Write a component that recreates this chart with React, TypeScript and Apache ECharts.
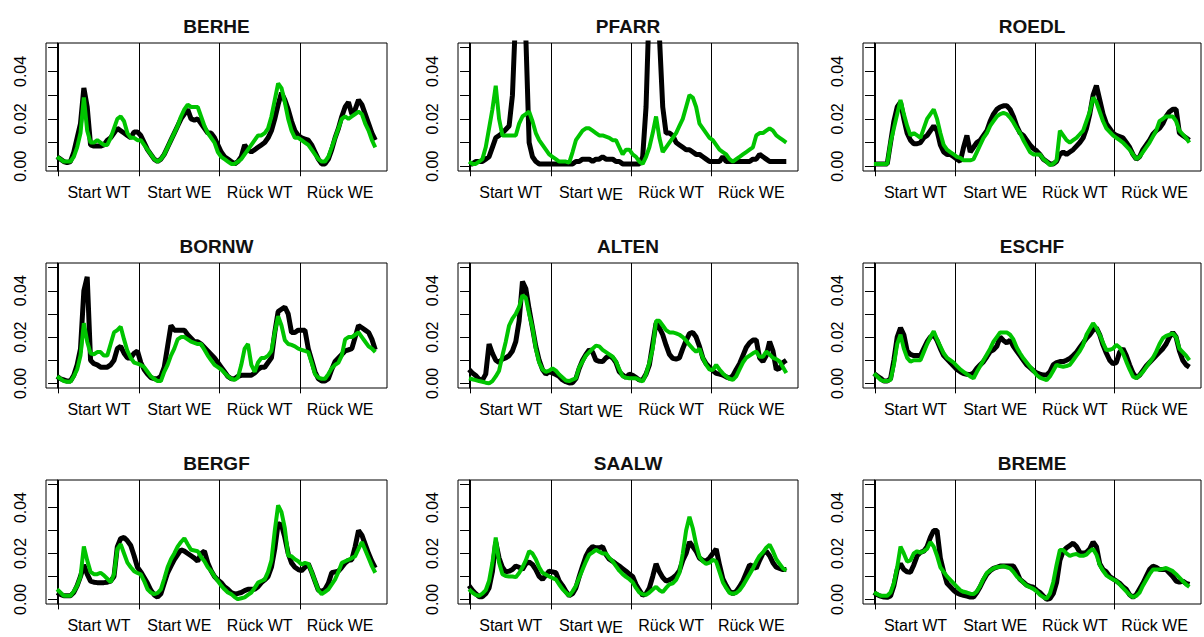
import { useEffect, useRef } from "react";
import * as echarts from "echarts";

// ---------- data (values in thousandths, i.e. 4 = 0.004) ----------
const stations = ["BERHE", "PFARR", "ROEDL", "BORNW", "ALTEN", "ESCHF", "BERGF", "SAALW", "BREME"];
const sectionLabels = ["Start WT", "Start WE", "Rück WT", "Rück WE"];
const sectionBreaks = [0.5, 24.5, 48.5, 72.5];
const sectionCenters = [12.5, 36.5, 60.5, 84.5];
const yTickValues = [0, 0.01, 0.02, 0.03, 0.04, 0.05];
const yLabelValues = [0, 0.02, 0.04];

const berheBlack = [4,3,2,1.5,2,6,12,18,33,25, 9,8.5,8.5,8.5,9,11,12,14,16,15, 14,13,12,14.5,14.5,13,10,7,5,3, 2,3,5,8,11,14,17,20,22,24, 20,19.5,20,18,16,14,14,12,9,6, 4,3,2,1,2,4,9,7,6,7, 8,9,10,12,15,20,26,31,28,24, 19,15,13,12,11.5,11,9,6,3,1, 1,3,7,12,16,21,25,27,22,24, 28,26,22,18,14,11];
const berheGreen = [4,3,2,2,2,4,8,14,29,15, 10,10,11,10,9,9,12,16,20,21, 19,14,12,12,11,11,9,7,5,3, 2,3,5,8,11,14,17,21,24,26, 25,25,25,21,17,14,12,10,6,4, 3,2,1,1,2,3,5,7,9,11, 13,13,14,16,21,28,35,33,27,20, 15,12,12,11,10,9,7,5,3,2, 2,4,8,12,16,20,21,20,21,22, 23,22,18,15,11,8];

const pfarrBlack = [1,1,2,2,2,3,4,8,12,13, 14,15.5,17,30,65,80,80,55,10,4, 2,1,1,1,1,1,1,1,1,1, 1,1,2,2,3,3,3,2,3,3, 4,3,3,3,2,2,1,1,1,1, 1,1,4,25,70,80,80,55,25,14, 14,13,10,9,8,7,7,6,5,5, 4,3,2,2,2,2,4,2,2,2, 2,2,2,2,2,3,3,5,4,3, 2,2,2,2,2,2];
const pfarrGreen = [2,1,1,2,3,8,16,24,34,20, 13,13,13,13,13,18,21,22,23,19, 14,11,9,7,5,4,3,2,2,2, 1.5,6,11,13,15,16,16,15,14,13, 13,12.5,12,11,11,8,5,7,7,5, 4,2,1,4,8,14,21,12,6,8, 10,12,14,17,20,25,30,29,25,18, 16,14,12,11,9,7,6,5,3,2, 3,4,5,6,7,8,13,14,14,15, 16,15,13,12,11,10];

const roedlBlack = [1,1,1,1,1,10,19,25,27,20, 14,11,9.5,9.5,10,12,13,15,17,15, 9,6,5,5,4,3,2,8,13,6, 8,10,11,13,15,19,22,24,25,25.5, 25.5,24,21,17,14,13,11,9,7.5,6.5, 5,3,2,1,1,2,5,6,5,6, 7,8.5,10,12,16,22,30,34,28,22, 18,16,14,13,12.5,12,10,8,5,3, 4,7,9,11,13.5,15,16,18,21,23, 24,24,14,13,12,11];
const roedlGreen = [1,1,1,1,1,10,16,22,28,22, 17,13,14,13,12,16,20,22,24,20, 14,9,7,6,5,4,3.5,2.5,2.5,2.5, 3,6,9,12,14,17,19,21,22,22.5, 22,20.5,18.5,16,14,11,8.5,6,5,5, 5,3,2,0.5,1,2.5,15,13,11,10, 11,12,13.5,15,19,23,29,27,23,19, 16,14.5,13,12,11,10,8.5,7,5,3, 4,6,8,10,12.5,15,19,20,21,21, 21,19,15,13.5,12,10];

const bornwBlack = [3,2,1.5,1,1,3.5,8,15,40,46, 10,8.5,8,7,7,7,8,10,15,16, 13,11,11,13,14,9,6,4,2.5,2, 2,3,7,16,25,23,23,23,23,21, 19.5,18,18,17,15.5,14,12.5,11,9,7, 5,3,2,2,3,3.5,3.5,3.5,3.5,4.5, 6,7,7,9,11,22,31,32,33,30, 22,22,23,23,23,15,10,5,2,1, 1,2,6,9.5,11,12.5,14,14.5,15,20, 25,24,23,22,19,14.5];
const bornwGreen = [3,2,1,0.7,0.7,3,6,12,26,18, 13,12.5,13.5,13.5,12,12,17,22,23,24.5, 19,14,11,9,8.5,8,7,5,3,2, 1,1,5,8,12,15,19,20,20,19, 18,17.5,17,17,14.5,12,10,8,7,6, 4.5,3,2,1.5,2.5,8,15,17,8,5, 9,11,11,12,14,22,29,25,18.7,17, 16.6,16,15,14.5,14,13.5,9,4,2.5,2, 2,4,6.5,8,9,12,19,20,20,21, 22,20,18,16,15,13.5];

const altenBlack = [6,4.5,3.4,1.8,1.4,4,17,13,10,9, 10.5,11,12,14,18,27,44,41,32,24, 16,10,6,4,5,4.5,3.8,3,1.5,0.7, 0.2,0.3,2,6.5,10,12.5,14.5,13.5,10,9.5, 9.4,11,12,11,9,5,3.6,2.5,4,3.5, 2.5,1.4,1.6,4,8,17,26,24,21,16.5, 12.5,10.8,10.5,11,15,18.5,21.5,22,20,16, 11,8.5,7,5.5,4.3,4,3.6,2.8,2.2,3.3, 6,8.5,12,15.5,17.5,18.7,18.7,11,9.4,12, 18,14,6,6.5,9,10];
const altenGreen = [2.2,1.8,1.4,1,0.7,0.3,0,1,3,5.5, 12,18,25,28,30,33,38,37,30,24, 15,9,6,5,5.5,6.5,5.5,3.8,2.5,1.2, 1,1.6,2.2,7,9.5,12,13.5,15,16.3,16, 14.5,13.5,12.5,11.5,9.5,6,3,2.5,2.2,2.2, 2.2,1.5,0.8,4,9,15,27,27,25,23, 22,22,21.6,21,20,18.5,16.6,15,13.7,15, 11,8,6,5.8,8,6,4.3,3,2,1.5, 3,6,9,11,12,13,13.7,11.5,11.5,13.7, 12.5,11,10.5,9.5,7,4.5];

const eschfBlack = [4.3,3.2,2.2,1,1,2,10,20,24,21, 14,12.5,12,12,12,15,18,20,21,18.5, 15,12,10.5,9,7.5,6,5,4.2,3.9,3.7, 4.5,6.5,8,9.4,11.5,13.7,14.5,16,20,18.5, 17.5,18.7,16,14,12,10,8,6.8,5.5,4.5, 4,3.6,3.6,5,8,9,9.4,9.4,10,10.8, 12,13.5,15.5,17.5,19.5,21,23,24,21,16.5, 13,10,8.5,9,13.5,15,12,8,4.5,2.5, 3.5,5.5,7.5,9,10.5,12,13.5,15,17,20, 22,20,14,10,8,7];
const eschfGreen = [4.3,3,1.5,1,1,1.5,8,17,21,15, 11,9.4,10,10,10,13.5,17,20,22.5,19, 16,13,11,10,9,7.5,6,5,4,3, 2.2,5,7.5,10,12.5,15,18,20,22,22, 22,21,19,15.5,13,10.8,9,7.2,5.5,3.6, 2.5,1.9,1.4,3,5.5,8,7.5,7.2,7.5,8, 10,12,14,16.6,21,23.5,26,24,21,17.5, 14.4,14.5,15,16.6,15.5,13,9.4,6,3,2.2, 3.5,5,7,9,11,13.7,17,19.5,20.5,21, 21.6,20,15,13.5,12,10];

const bergfBlack = [3,2.2,1.6,1.6,1.6,3,6,10,15,11, 8,7.5,7.3,7.3,7.3,7.5,8,10,23,26.5, 27,25.5,23.5,19,14,12,9.5,7,4,2, 1,2.5,7,11.6,14.5,17.3,19.5,21.6,21,20, 19,18,16.6,20,21,15.9,12.5,10,8.5,7.3, 5.5,4.4,3,2.3,2.6,3,3.8,4.4,4.4,4.4, 5.5,7.3,8.5,10,14,22,33,32.5,27,20, 15.9,14,13,12.5,14,15.5,12,8,4,3.5, 4.4,7,11.6,12,12.3,14,15.9,17,17.3,23, 30,28,24,20,16.5,13.7];
const bergfGreen = [4.4,3,1.6,1.6,1.6,3.5,6,10,23,17, 12,11,11,11.6,10.5,9,7.5,11,22,24, 20,16,14,12.3,11.5,10.9,8,4.4,3,2.3, 2.8,4.4,9,14,17.5,20,23,25,26.6,24, 21.6,21.3,21,18.5,16.6,14,12.3,10,8,6, 4.4,3,2.3,1,0.1,0.5,0.9,2,3,5, 7.3,8,8.7,12,17,30,41,38,31,19, 18.8,17.5,16.6,15.2,15.9,15.5,12,8,4,2.3, 3.3,4.4,6.5,8.7,12,15.9,16.6,17.3,18,18.8, 22,25,21.5,18,14.5,11.6];

const saalwBlack = [6,4,2.5,1.2,1.2,2.5,5,12,25,18, 14,12,12.3,13,14.5,14,13,15.5,16.3,15.2, 13,10,8.7,10.5,12.3,12,11.6,8,6,3.5, 1.6,2.5,5,10,14.5,18.8,21.5,23,22.5,22.5, 23,19.5,17.5,16.6,15.5,14.5,13.4,12.3,11,10, 6.5,4,1.8,2.5,5,10,15.5,12,9.5,8, 8.5,9.3,10.5,12.5,17,20,25,23,21,18, 17,16.8,18,20,22,15,9,6,3.5,2.5, 3.5,5.5,8,11.5,15,14.5,13.5,17,20,21, 19,16,14,13.5,13,13];
const saalwGreen = [4.4,3,2,1.6,2.5,4,8,16,27,16, 11,10.2,10,10,9.7,11.5,14,17,21,20, 17.5,14,11.6,10.8,10,9.3,8.7,6.5,4.5,3, 1.6,3.5,5.9,9.5,13,16.5,19.5,20.5,21.6,20.8, 20,20,18,16.6,14.5,12.5,11,9.8,8.8,7.5, 5,3,2.2,2,3,4.3,5.5,4,3.2,5, 6.5,7,8.5,11.5,20,30,36,31,24,18.5, 16.6,15.5,16,17.3,16.5,12,7.5,5,2.8,2.5, 2.8,4,6,8.5,11,13.5,16.5,19,20.5,22.5, 23.8,21,17.5,15.5,13.5,12.5];

const bremeBlack = [3,2,1.4,1,0.9,1.5,6,13,15.5,13, 12,11.8,15,19,20.5,21,23,27,30,30, 18,12,7,5.5,4,2.8,2.2,1.8,1.4,1, 1,3,5.5,8.5,11,12.5,13.5,14,14.5,14.5, 14.5,14.5,14.5,12,8.7,7.5,6.2,5.7,5.3,4, 3,1.5,0.1,0.4,2.5,7.3,17,21,22.5,23.5, 24.5,23,20.5,20,20.5,22,25,23,15.5,13, 12,10,9,8,7,5.5,4.4,2,1,2, 4.5,7,10,13,14.5,14,13,13,13,11.5, 10,8,7.5,8,7,6.5];
const bremeGreen = [3,2.3,1.6,1.6,1.6,3,7,14,23,20, 16.5,17,20,21,20.3,21,22,25,23,19, 14,12,10,8.5,7,5.5,4,3.3,3,2.5, 2.3,3.5,6,9,11.5,12.5,13.5,14,14.2,14.5, 14,13.5,12,10,8.7,7.3,6,5.3,4.6,3.5, 2,1,0.3,2.5,7.5,15,21.5,21.5,20,19, 19.5,19.8,19,19,19.5,21,22,19.5,15,12.5, 10.5,9.5,8.7,8,6.5,5,3.5,2,1,1.5, 3,6,8.5,11,13,13,13,13.3,13.7,13, 12.3,11,9.5,8,6.5,5.5];

const blackSeries = [berheBlack, pfarrBlack, roedlBlack, bornwBlack, altenBlack, eschfBlack, bergfBlack, saalwBlack, bremeBlack];
const greenSeries = [berheGreen, pfarrGreen, roedlGreen, bornwGreen, altenGreen, eschfGreen, bergfGreen, saalwGreen, bremeGreen];

// ---------- layout ----------
const colLeft = [46, 458, 863];
const colRight = [387, 798, 1201];
const rowTop = [43, 263, 480];
const rowBottom = [171, 388, 604];
const FONT = '"Liberation Sans", Arial, Helvetica, sans-serif';
const GREEN = "#00C400";

export default function App() {
  const ref = useRef<HTMLDivElement>(null);

  useEffect(() => {
    document.body.style.margin = "0";
    if (!ref.current) return;
    const chart = echarts.init(ref.current, null, { renderer: "svg" });

    const grids: any[] = [];
    const xAxes: any[] = [];
    const yAxes: any[] = [];
    const series: any[] = [];
    const graphics: any[] = [];

    stations.forEach((name, k) => {
      const r = Math.floor(k / 3);
      const c = k % 3;
      const left = colLeft[c];
      const top = rowTop[r];
      const width = colRight[c] - colLeft[c];
      const height = rowBottom[r] - rowTop[r];
      grids.push({
        left, top, width, height,
        show: true, borderColor: "#000", borderWidth: 1,
        backgroundColor: "transparent", containLabel: false,
      });
      xAxes.push({
        type: "value", gridIndex: k, min: -3.3, max: 98.5,
        axisLine: { show: false },
        axisTick: { show: true, customValues: sectionBreaks, length: 10, lineStyle: { color: "#000", width: 1 } },
        axisLabel: {
          show: true,
          customValues: sectionCenters,
          margin: 13,
          fontSize: 16,
          fontFamily: FONT,
          color: "#000",
          formatter: (v: number) => {
            const idx = sectionCenters.findIndex((p) => Math.abs(p - v) < 0.01);
            const label = sectionLabels[idx] ?? "";
            if (c === 1 && idx === 1) {
              const parts = label.split(" ");
              return `{up|${parts[0]}} ${parts[1]}`;
            }
            return label;
          },
          rich: {
            up: { fontSize: 16, fontFamily: FONT, color: "#000", padding: [0, 0, 4, 0] },
          },
        },
        splitLine: { show: false },
      });
      yAxes.push({
        type: "value", gridIndex: k, min: -0.002, max: 0.052,
        axisLine: { show: true, lineStyle: { color: "#000", width: 1 } },
        axisTick: { show: true, customValues: yTickValues, length: 9, lineStyle: { color: "#000", width: 1 } },
        axisLabel: {
          show: true,
          customValues: yLabelValues,
          rotate: 90,
          margin: 18,
          fontSize: 16,
          fontFamily: FONT,
          color: "#000",
          formatter: (v: number) => v.toFixed(2),
        },
        splitLine: { show: false },
      });
      series.push({
        type: "line",
        name: name + " black",
        xAxisIndex: k, yAxisIndex: k,
        data: blackSeries[k].map((v, i) => [i, v / 1000]),
        showSymbol: false, symbol: "none",
        lineStyle: { color: "#000", width: 5 },
        z: 3, silent: true, clip: true,
        markLine: {
          silent: true, symbol: ["none", "none"], z: 1,
          label: { show: false },
          lineStyle: { color: "#000", width: 1, type: "solid" },
          emphasis: { disabled: true },
          data: sectionBreaks.map((x) => ({ xAxis: x })),
        },
      });
      series.push({
        type: "line",
        name: name + " green",
        xAxisIndex: k, yAxisIndex: k,
        data: greenSeries[k].map((v, i) => [i, v / 1000]),
        showSymbol: false, symbol: "none",
        lineStyle: { color: GREEN, width: 4 },
        z: 4, silent: true, clip: true,
      });
      graphics.push({
        type: "text",
        x: (colLeft[c] + colRight[c]) / 2,
        y: rowTop[r] - 17,
        style: {
          text: name,
          align: "center",
          verticalAlign: "middle",
          textAlign: "center",
          textVerticalAlign: "middle",
          fontSize: 19,
          fontWeight: "bold",
          fontFamily: FONT,
          fill: "#111",
        },
      });
    });

    chart.setOption({
      animation: false,
      backgroundColor: "#fff",
      grid: grids,
      xAxis: xAxes,
      yAxis: yAxes,
      series,
      graphic: graphics,
    });

    return () => chart.dispose();
  }, []);

  return <div ref={ref} style={{ width: 1204, height: 637 }} />;
}
